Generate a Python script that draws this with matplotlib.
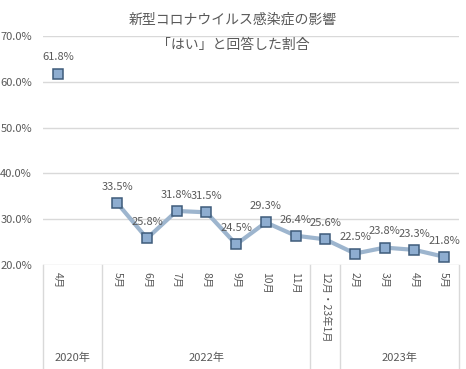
'''新型コロナウイルス感染症の影響 - 「はい」と回答した割合'''

import numpy as np
import matplotlib
matplotlib.use('Agg')
import matplotlib.pyplot as plt
from matplotlib.transforms import blended_transform_factory

plt.rcParams['font.family'] = ['Noto Sans CJK JP', 'DejaVu Sans']

# データ (2020年5月以降の空き枠は欠損)
months = ['4月', '', '5月', '6月', '7月', '8月', '9月', '10月', '11月',
          '12月・23年1月', '2月', '3月', '4月', '5月']
values = [61.8, np.nan, 33.5, 25.8, 31.8, 31.5, 24.5, 29.3, 26.4,
          25.6, 22.5, 23.8, 23.3, 21.8]
groups = ['2020年', '2022年', '', '2023年']
group_bounds = [(0, 1), (2, 8), (9, 9), (10, 13)]
yticks = [20, 30, 40, 50, 60, 70]

text_col = '#595959'
grid_col = '#d9d9d9'

fig = plt.figure(figsize=(4.66, 3.69), dpi=100)
W, H = 466, 369
left, right, top, bottom = 43, 459, 36, 265
ax = fig.add_axes([left / W, 1 - bottom / H, (right - left) / W, (bottom - top) / H])

x = np.arange(len(months))
ax.plot(x, values, color='#9db5ce', lw=3, zorder=3,
        marker='s', ms=7, mfc='#8eadd0', mec='#3e5b7a', mew=1.1)

for xi, v in zip(x, values):
    if np.isnan(v):
        continue
    ax.annotate(f'{v:.1f}%', (xi, v), xytext=(0, 8), textcoords='offset points',
                ha='center', va='bottom', fontsize=8, color=text_col)

ax.set_xlim(-0.5, len(months) - 0.5)
ax.set_ylim(20, 70)
ax.set_yticks(yticks)
ax.set_yticklabels([f'{t:.1f}%' for t in yticks], fontsize=8, color=text_col)
ax.tick_params(axis='y', length=0, pad=8)
ax.set_xticks([])
for s in ax.spines.values():
    s.set_visible(False)
for t in yticks:
    ax.axhline(t, color=grid_col, lw=1, zorder=1)

# カテゴリ軸 (多階層ラベル)
trans = blended_transform_factory(ax.transData, ax.transAxes)
low = -(H - bottom) / (bottom - top)
for xi, m in zip(x, months):
    ax.text(xi, -0.03, m, transform=trans, rotation=-90, ha='center', va='top',
            fontsize=7.5, color=text_col)
edges = [-0.5] + [b[1] + 0.5 for b in group_bounds]
for e in edges:
    ax.plot([e, e], [0, low], transform=trans, color=grid_col, lw=1, clip_on=False)
for g, (a, b) in zip(groups, group_bounds):
    if g:
        ax.text((a + b) / 2, low + 0.05, g, transform=trans, ha='center', va='center',
                fontsize=8, color=text_col)

fig.text(0.5, 1 - 20 / H, '新型コロナウイルス感染症の影響', ha='center', va='center',
         fontsize=10, color=text_col)
fig.text(0.5, 1 - 45 / H, '「はい」と回答した割合', ha='center', va='center',
         fontsize=10, color=text_col)

fig.savefig('out.png', dpi=100)
